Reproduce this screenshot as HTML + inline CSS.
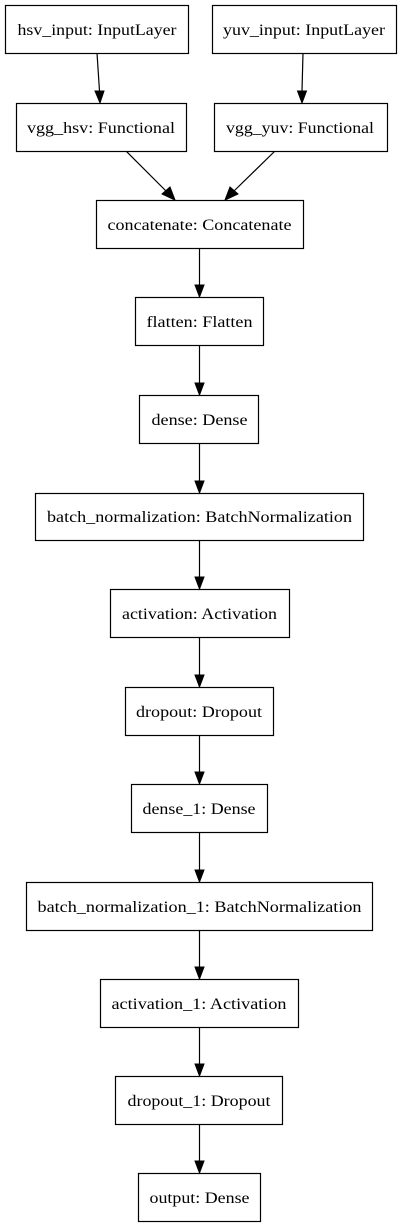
<!DOCTYPE html>
<html><head><meta charset="utf-8"><style>
html,body{margin:0;padding:0;background:#fff;}
svg{display:block;}
text{font-family:"Liberation Serif",serif;font-size:16px;fill:#000;text-anchor:middle;}
rect{fill:#fff;stroke:#000;stroke-width:1.2;}
line{stroke:#000;stroke-width:1.2;}
polygon{fill:#000;stroke:#000;stroke-width:1;}
</style></head><body>
<svg width="403" height="1228" viewBox="0 0 403 1228" xmlns="http://www.w3.org/2000/svg">
<line x1="97" y1="53" x2="99.5" y2="91"/><polygon points="95,91 104,91 100,103"/>
<line x1="303" y1="53" x2="302" y2="91"/><polygon points="297.5,91 306.5,91 302,103"/>
<line x1="126" y1="151" x2="166" y2="191"/><polygon points="162,194 170,187 175,200"/>
<line x1="275" y1="151" x2="234" y2="191"/><polygon points="230,187 238,194 225,200"/>
<line x1="199.5" y1="248" x2="199.5" y2="285"/><polygon points="195,285 204,285 199.5,297"/>
<line x1="199.5" y1="346" x2="199.5" y2="383"/><polygon points="195,383 204,383 199.5,395"/>
<line x1="199.5" y1="443" x2="199.5" y2="481"/><polygon points="195,481 204,481 199.5,493"/>
<line x1="199.5" y1="540" x2="199.5" y2="577"/><polygon points="195,577 204,577 199.5,589"/>
<line x1="199.5" y1="637" x2="199.5" y2="675"/><polygon points="195,675 204,675 199.5,687"/>
<line x1="199.5" y1="735" x2="199.5" y2="772"/><polygon points="195,772 204,772 199.5,784"/>
<line x1="199.5" y1="832" x2="199.5" y2="870"/><polygon points="195,870 204,870 199.5,882"/>
<line x1="199.5" y1="930" x2="199.5" y2="967"/><polygon points="195,967 204,967 199.5,979"/>
<line x1="199.5" y1="1027" x2="199.5" y2="1064"/><polygon points="195,1064 204,1064 199.5,1076"/>
<line x1="199.5" y1="1124" x2="199.5" y2="1161"/><polygon points="195,1161 204,1161 199.5,1173"/>
<rect x="5.5" y="5.5" width="183" height="48"/><text x="97" y="35" textLength="159" lengthAdjust="spacingAndGlyphs">hsv_input: InputLayer</text>
<rect x="212.5" y="5.5" width="184" height="48"/><text x="304" y="35" textLength="162" lengthAdjust="spacingAndGlyphs">yuv_input: InputLayer</text>
<rect x="16.5" y="103.5" width="170" height="48"/><text x="101" y="133" textLength="148" lengthAdjust="spacingAndGlyphs">vgg_hsv: Functional</text>
<rect x="214.5" y="103.5" width="173" height="48"/><text x="300" y="133" textLength="148" lengthAdjust="spacingAndGlyphs">vgg_yuv: Functional</text>
<rect x="96.5" y="200.5" width="207" height="48"/><text x="199.5" y="230" textLength="184" lengthAdjust="spacingAndGlyphs">concatenate: Concatenate</text>
<rect x="135.5" y="297.5" width="128" height="48"/><text x="199.5" y="327" textLength="106" lengthAdjust="spacingAndGlyphs">flatten: Flatten</text>
<rect x="139.5" y="395.5" width="119" height="48"/><text x="199.5" y="425" textLength="96" lengthAdjust="spacingAndGlyphs">dense: Dense</text>
<rect x="35.5" y="493.5" width="328" height="47"/><text x="199.5" y="522" textLength="305" lengthAdjust="spacingAndGlyphs">batch_normalization: BatchNormalization</text>
<rect x="110.5" y="589.5" width="179" height="48"/><text x="199.5" y="619" textLength="155" lengthAdjust="spacingAndGlyphs">activation: Activation</text>
<rect x="125.5" y="687.5" width="148" height="48"/><text x="199" y="717" textLength="126" lengthAdjust="spacingAndGlyphs">dropout: Dropout</text>
<rect x="131.5" y="784.5" width="136" height="48"/><text x="199" y="814" textLength="113" lengthAdjust="spacingAndGlyphs">dense_1: Dense</text>
<rect x="26.5" y="882.5" width="346" height="48"/><text x="199.5" y="912" textLength="324" lengthAdjust="spacingAndGlyphs">batch_normalization_1: BatchNormalization</text>
<rect x="100.5" y="979.5" width="198" height="48"/><text x="199" y="1009" textLength="175" lengthAdjust="spacingAndGlyphs">activation_1: Activation</text>
<rect x="115.5" y="1076.5" width="167" height="48"/><text x="199" y="1106" textLength="143" lengthAdjust="spacingAndGlyphs">dropout_1: Dropout</text>
<rect x="138.5" y="1173.5" width="122" height="48"/><text x="199.5" y="1203" textLength="100" lengthAdjust="spacingAndGlyphs">output: Dense</text>
</svg>
</body></html>
